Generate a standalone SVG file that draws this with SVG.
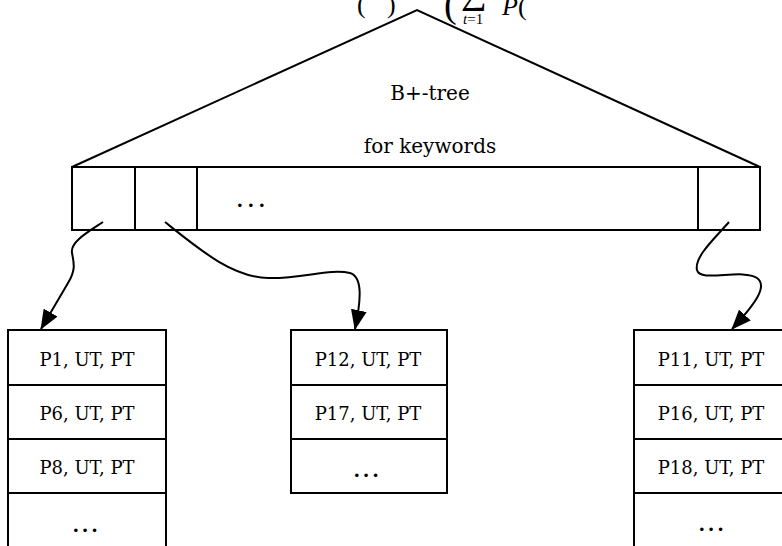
<svg xmlns="http://www.w3.org/2000/svg" width="782" height="546" viewBox="0 0 782 546">
  <style>
    .ln { fill: none; stroke: #000; stroke-width: 2; }
    .box { fill: #fff; stroke: #000; stroke-width: 2; }
    .lbl { font-family: "DejaVu Serif", "Liberation Serif", serif; font-size: 18px; fill: #000; text-anchor: middle; }
    .title { font-family: "DejaVu Serif", "Liberation Serif", serif; font-size: 20px; fill: #000; text-anchor: middle; }
    .dots { font-family: "DejaVu Serif", "Liberation Serif", serif; font-weight: bold; font-size: 19px; fill: #000; }
    .math { font-family: "Liberation Serif", "Times New Roman", serif; fill: #000; }
    .conn { fill: none; stroke: #000; stroke-width: 2; }
  </style>
  <defs>
    <marker id="arrow" viewBox="0 0 20 16" refX="19" refY="8" markerWidth="20" markerHeight="16" markerUnits="userSpaceOnUse" orient="auto">
      <path d="M0,0 L20,8 L0,16 Z" fill="#000"/>
    </marker>
  </defs>
  <rect width="782" height="546" fill="#fff"/>

  <!-- formula fragment along the top edge -->
  <g id="formula">
    <text class="math" x="357" y="13" font-size="26">(</text>
    <text class="math" x="387" y="13" font-size="26">)</text>
    <text class="math" x="444" y="17" font-size="38">(</text>
    <text class="math" x="461" y="3" font-size="36">∑</text>
    <text class="math" x="463" y="24" font-size="15"><tspan font-style="italic">t</tspan>=1</text>
    <text class="math" x="502" y="15" font-size="26"><tspan font-style="italic">P</tspan>(</text>
  </g>

  <!-- B+-tree root: triangle over the key array -->
  <g id="btree">
    <polyline class="ln" points="72,167 417,10 760,167"/>
    <text class="title" x="430" y="100">B+-tree</text>
    <text class="title" x="430" y="153">for keywords</text>
    <rect class="box" x="72" y="167" width="688" height="63"/>
    <line class="ln" x1="135" y1="167" x2="135" y2="230"/>
    <line class="ln" x1="197" y1="167" x2="197" y2="230"/>
    <line class="ln" x1="698" y1="167" x2="698" y2="230"/>
    <text class="dots" x="236.4" y="207" letter-spacing="4.5">...</text>
  </g>

  <!-- posting list for first key -->
  <g id="list-left">
    <rect class="box" x="8" y="330" width="158" height="240"/>
    <line class="ln" x1="8" y1="385" x2="166" y2="385"/>
    <line class="ln" x1="8" y1="439" x2="166" y2="439"/>
    <line class="ln" x1="8" y1="493" x2="166" y2="493"/>
    <text class="lbl" x="87" y="366">P1, UT, PT</text>
    <text class="lbl" x="87" y="420">P6, UT, PT</text>
    <text class="lbl" x="87" y="474">P8, UT, PT</text>
    <text class="dots" x="72.4" y="532" letter-spacing="2.8">...</text>
  </g>

  <!-- posting list for second key -->
  <g id="list-mid">
    <rect class="box" x="291" y="330" width="156" height="163"/>
    <line class="ln" x1="291" y1="385" x2="447" y2="385"/>
    <line class="ln" x1="291" y1="439" x2="447" y2="439"/>
    <text class="lbl" x="368" y="366">P12, UT, PT</text>
    <text class="lbl" x="368" y="420">P17, UT, PT</text>
    <text class="dots" x="353.4" y="477" letter-spacing="2.8">...</text>
  </g>

  <!-- posting list for last key -->
  <g id="list-right">
    <rect class="box" x="634" y="330" width="170" height="240"/>
    <line class="ln" x1="634" y1="385" x2="790" y2="385"/>
    <line class="ln" x1="634" y1="439" x2="790" y2="439"/>
    <line class="ln" x1="634" y1="493" x2="790" y2="493"/>
    <text class="lbl" x="711" y="366">P11, UT, PT</text>
    <text class="lbl" x="711" y="420">P16, UT, PT</text>
    <text class="lbl" x="711" y="474">P18, UT, PT</text>
    <text class="dots" x="698.4" y="531" letter-spacing="2.8">...</text>
  </g>

  <!-- pointers from key cells to posting lists -->
  <g id="connectors">
    <path class="conn" marker-end="url(#arrow)" d="M103,222 C88,232 70,242 72,253 C74,263 76,270 68,283 L41,329"/>
    <path class="conn" marker-end="url(#arrow)" d="M165,222 C200,250 232,277 268,278 C302,279 330,268 350,273 C363,277 361,300 355,329"/>
    <path class="conn" marker-end="url(#arrow)" d="M729,222 C715,238 694,257 697,270 C700,283 742,268 757,278 C768,286 756,303 732,329"/>
  </g>
</svg>
